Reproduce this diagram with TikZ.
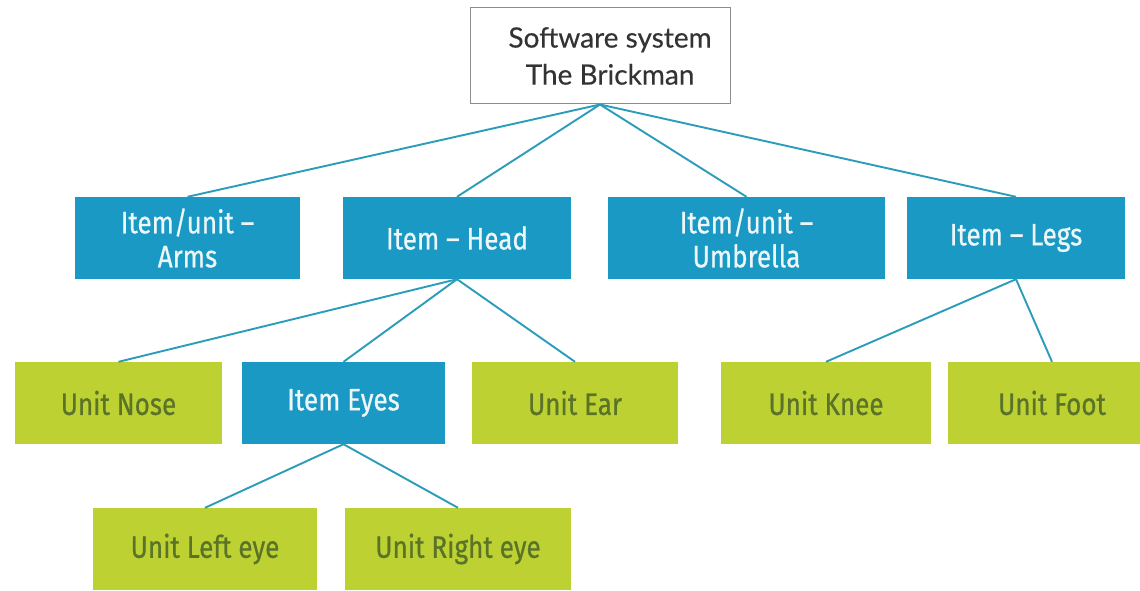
\documentclass[tikz,border=0pt]{standalone}
\usepackage{fontspec}
\setmainfont{Fira Sans}
\newfontfamily\boxfont[FakeStretch=0.84,FakeBold=0.6]{Fira Sans}
\newfontfamily\topfont[FakeBold=0.3]{Lato}
\definecolor{itemblue}{HTML}{1A99C4}
\definecolor{unitgreen}{HTML}{BDD232}
\definecolor{unittext}{HTML}{5A7328}
\definecolor{itemtext}{HTML}{EDF7FA}
\definecolor{linkcol}{HTML}{2B9CBA}
\begin{document}
\begin{tikzpicture}[x=1pt,y=-1pt,
  base/.style={rectangle,inner sep=0pt,align=center,minimum height=82pt,
    font=\boxfont\fontsize{31}{34}\selectfont},
  itembox/.style={base,fill=itemblue,text=itemtext},
  unitbox/.style={base,fill=unitgreen,text=unittext},
  topbox/.style={rectangle,draw=black!45,line width=1pt,fill=white,
    minimum width=260pt,minimum height=96pt},
  toplabel/.style={align=center,text=black!80,
    font=\topfont\fontsize{28}{37}\selectfont},
  link/.style={draw=linkcol,line width=1.9pt}]
\useasboundingbox (0,0) rectangle (1140,591);
\fill[white] (0,0) rectangle (1140,591);

% root: frame and its two-line title, set a little right of centre
\node[topbox] (root) at (600,56) {};
\node[toplabel] (roottitle) at (610,56) {Software system\\The Brickman};

% first level
\node[itembox,minimum width=225pt] (arms) at (187.5,238) {Item/unit –\\Arms};
\node[itembox,minimum width=228pt] (head) at (457,238) {Item – Head};
\node[itembox,minimum width=277pt] (umb) at (746.5,238) {Item/unit –\\Umbrella};
\node[itembox,minimum width=218pt] (legs) at (1016,238) {Item – Legs};

% second level
\node[unitbox,minimum width=207pt] (nose) at (118.5,403) {Unit Nose};
\node[itembox,minimum width=203pt] (eyes) at (343.5,403) {Item Eyes};
\node[unitbox,minimum width=206pt] (ear) at (575,403) {Unit Ear};
\node[unitbox,minimum width=210pt] (knee) at (826,403) {Unit Knee};
\node[unitbox,minimum width=208pt] (foot) at (1052,403) {Unit Foot};

% third level
\node[unitbox,minimum width=224pt] (leye) at (205,549) {Unit Left eye};
\node[unitbox,minimum width=226pt] (reye) at (458,549) {Unit Right eye};

% connectors
\foreach \c in {arms,head,umb,legs}
  \draw[link] (root.south) -- (\c.north);
\foreach \c in {nose,eyes,ear}
  \draw[link] (head.south) -- (\c.north);
\foreach \c in {knee,foot}
  \draw[link] (legs.south) -- (\c.north);
\foreach \c in {leye,reye}
  \draw[link] (eyes.south) -- (\c.north);
\end{tikzpicture}
\end{document}
